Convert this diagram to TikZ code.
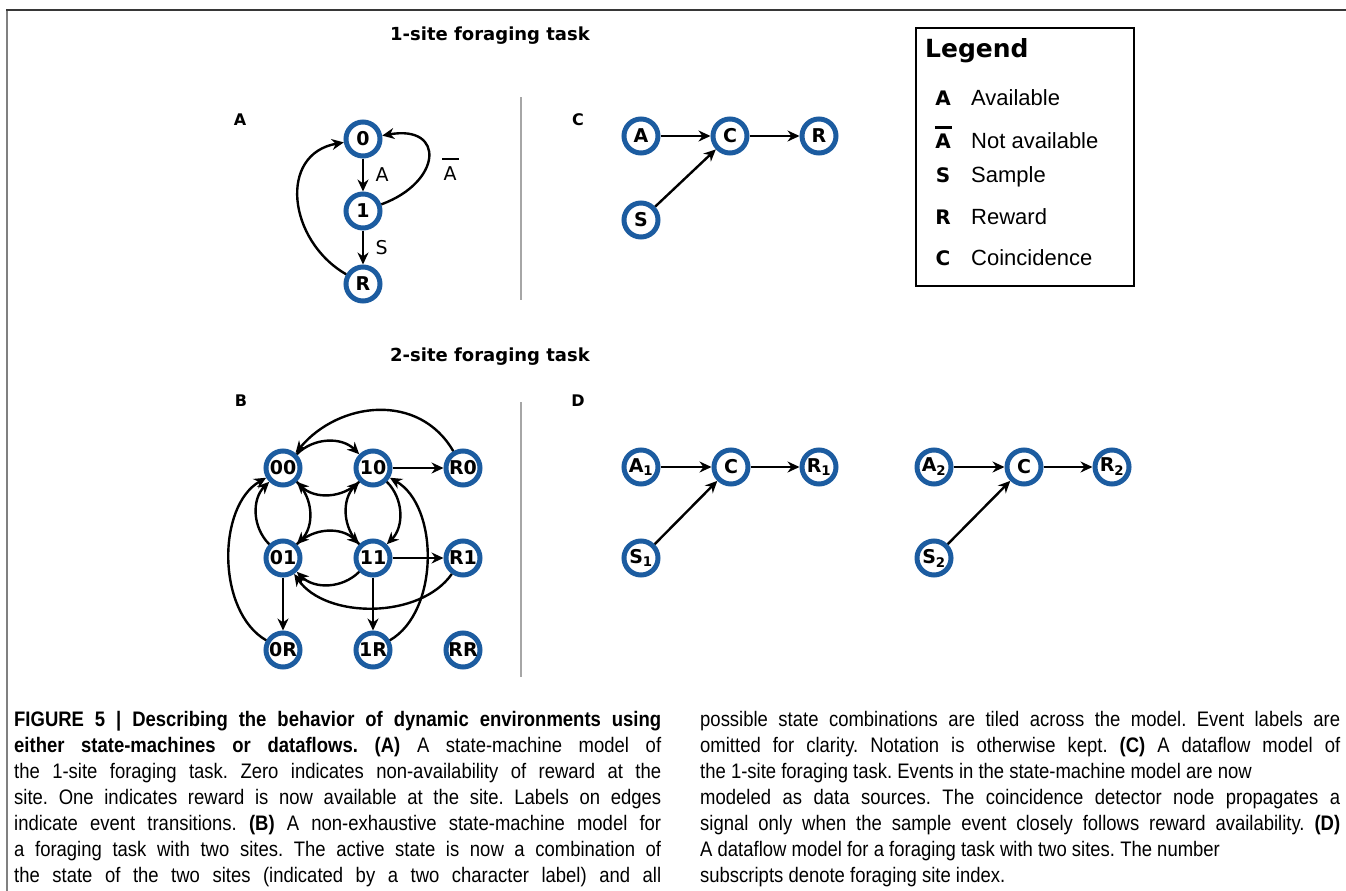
\documentclass[tikz,border=0pt]{standalone}
\usepackage{fontspec}
\setmainfont{Liberation Sans}
\newfontfamily\headfont{DejaVu Sans}
\newfontfamily\capfont[FakeStretch=0.88]{Liberation Sans}
\usetikzlibrary{positioning,arrows.meta}
\definecolor{ringblue}{RGB}{28,92,160}
\definecolor{framegray}{RGB}{55,55,55}
\newcommand{\fll}[1]{\makebox[647pt][s]{#1}}
\newcommand{\flr}[1]{\makebox[640pt][s]{#1}}
\tikzset{
    statenode/.style={ % blue ring, bold label
        draw=ringblue,
        line width=5pt,
        circle,
        minimum size=34pt,
        inner sep=0pt,
        fill=white,
        font=\headfont\bfseries\fontsize{19}{19}\selectfont
    },
    flow/.style={-{Stealth[length=12pt,width=11pt]}, line width=2.4pt},
    panel/.style={font=\headfont\bfseries\fontsize{16}{16}\selectfont},
    heading/.style={anchor=base, font=\headfont\bfseries\fontsize{18}{18}\selectfont},
    evlabel/.style={font=\headfont\fontsize{19}{19}\selectfont},
    legsym/.style={anchor=base, inner sep=0pt, font=\headfont\bfseries\fontsize{20}{20}\selectfont},
    legtext/.style={anchor=base west, inner sep=0pt, font=\fontsize{22}{22}\selectfont},
    captext/.style={anchor=north west, align=left, inner sep=0pt, font=\capfont\frenchspacing\fontsize{21}{26}\selectfont}
}

\begin{document}
\begin{tikzpicture}[x=1pt, y=-1pt, node distance=90pt, on grid]
        \useasboundingbox (0,0) rectangle (1346,891);
        \draw[gray, line width=2pt] (7,10.5) -- (7,891);
        \draw[framegray, line width=2pt] (6,10.5) -- (1346,10.5);
        
        \node[heading] (title1) at (490,41) {1-site foraging task};
        \node[heading] (title2) at (490,361) {2-site foraging task};
        \draw[gray!70, line width=2pt] (521,97) -- (521,300);
        \draw[gray!70, line width=2pt] (521,402) -- (521,677);
        
        \node[panel] (labA) at (240,120) {A};
        \node[panel] (labB) at (241,401) {B};
        \node[panel] (labC) at (578,120) {C};
        \node[panel] (labD) at (578,401) {D};
        
        % A: one site
        \node[statenode] (n0) at (363,139) {0};
        \node[statenode, below=72pt of n0] (n1) {1};
        \node[statenode, below=73pt of n1] (nR) {R};
        \draw[flow] (n0) -- node[evlabel, right=8pt] {A} (n1);
        \draw[flow] (n1) -- node[evlabel, right=8pt] {S} (nR);
        \draw[flow] (n1) to[out=20, in=10, looseness=2.4] (n0);
        \draw[flow] (nR) to[out=150, in=190, looseness=1.3] (n0);
        \node[evlabel, anchor=base] (abar) at (450,180) {\makebox[0pt][l]{\hspace{-1.5pt}\raisebox{20.5pt}{\rule{17pt}{2pt}}}A};
        
        % B: two sites
        \node[statenode] (s00) at (283,468) {00};
        \node[statenode, right=of s00] (s10) {10};
        \node[statenode, right=of s10] (sR0) {R0};
        \node[statenode, below=of s00] (s01) {01};
        \node[statenode, right=of s01] (s11) {11};
        \node[statenode, right=of s11] (sR1) {R1};
        \node[statenode, below=92pt of s01] (s0R) {0R};
        \node[statenode, right=of s0R] (s1R) {1R};
        \node[statenode, right=of s1R] (sRR) {RR};
        
        \draw[flow] (s00) to[bend left=45] (s10);
        \draw[flow] (s10) to[bend left=45] (s00);
        \draw[flow] (s01) to[bend left=45] (s00);
        \draw[flow] (s00) to[bend left=45] (s01);
        \draw[flow] (s11) to[bend left=45] (s10);
        \draw[flow] (s10) to[bend left=45] (s11);
        \draw[flow] (s01) to[bend left=45] (s11);
        \draw[flow] (s11) to[bend left=45] (s01);
        \draw[flow] (s10) -- (sR0);
        \draw[flow] (s11) -- (sR1);
        \draw[flow] (s01) -- (s0R);
        \draw[flow] (s11) -- (s1R);
        \draw[flow] (sR0) to[out=120, in=50, looseness=1.1] (s00);
        \draw[flow] (sR1) to[out=-125, in=-55, looseness=0.9] (s01);
        \draw[flow] (s0R) to[out=150, in=210, looseness=0.9] (s00);
        \draw[flow] (s1R) to[out=30, in=-30, looseness=0.9] (s10);
        
        % C: dataflow, one site
        \node[statenode] (cA) at (641,136) {A};
        \node[statenode, right=89pt of cA] (cC) {C};
        \node[statenode, right=89pt of cC] (cR) {R};
        \node[statenode, below=84pt of cA] (cS) {S};
        \draw[flow] (cA) -- (cC);
        \draw[flow] (cC) -- (cR);
        \draw[flow] (cS) -- (cC);
        
        % D: dataflow, two sites
        \node[statenode] (dA1) at (641,467) {A\textsubscript{1}};
        \node[statenode, right=of dA1] (dC1) {C};
        \node[statenode, right=88pt of dC1] (dR1) {R\textsubscript{1}};
        \node[statenode, below=91pt of dA1] (dS1) {S\textsubscript{1}};
        \node[statenode] (dA2) at (934,467) {A\textsubscript{2}};
        \node[statenode, right=of dA2] (dC2) {C};
        \node[statenode, right=88pt of dC2] (dR2) {R\textsubscript{2}};
        \node[statenode, below=91pt of dA2] (dS2) {S\textsubscript{2}};
        \draw[flow] (dA1) -- (dC1);
        \draw[flow] (dC1) -- (dR1);
        \draw[flow] (dS1) -- (dC1);
        \draw[flow] (dA2) -- (dC2);
        \draw[flow] (dC2) -- (dR2);
        \draw[flow] (dS2) -- (dC2);
        
        % legend
        \draw[line width=2pt] (916,28) rectangle (1134,286);
        \node[anchor=base west, inner sep=0pt, font=\headfont\bfseries\fontsize{25}{25}\selectfont] (legtitle) at (925,57) {Legend};
        \node[legsym] (symA) at (943,105) {A};
        \node[legtext] (txtA) at (971,105) {Available};
        \node[legsym] (symAbar) at (943,148) {\makebox[0pt][l]{\hspace{-0.5pt}\raisebox{19pt}{\rule{17pt}{2.6pt}}}A};
        \node[legtext] (txtAbar) at (971,148) {Not available};
        \node[legsym] (symS) at (943,182) {S};
        \node[legtext] (txtS) at (971,182) {Sample};
        \node[legsym] (symR) at (943,224) {R};
        \node[legtext] (txtR) at (971,224) {Reward};
        \node[legsym] (symC) at (943,265) {C};
        \node[legtext] (txtC) at (971,265) {Coincidence};
        
        % caption
        \node[captext] (capleft) at (14,711) {%
            \fll{\textbf{FIGURE 5 | Describing the behavior of dynamic environments using}}\\
            \fll{\textbf{either state-machines or dataflows. (A)} A state-machine model of}\\
            \fll{the 1-site foraging task. Zero indicates non-availability of reward at the}\\
            \fll{site. One indicates reward is now available at the site. Labels on edges}\\
            \fll{indicate event transitions. \textbf{(B)} A non-exhaustive state-machine model for}\\
            \fll{a foraging task with two sites. The active state is now a combination of}\\
            \fll{the state of the two sites (indicated by a two character label) and all}};
        \node[captext] (capright) at (700,711) {%
            \flr{possible state combinations are tiled across the model. Event labels are}\\
            \flr{omitted for clarity. Notation is otherwise kept. \textbf{(C)} A dataflow model of}\\
            the 1-site foraging task. Events in the state-machine model are now\\
            \flr{modeled as data sources. The coincidence detector node propagates a}\\
            \flr{signal only when the sample event closely follows reward availability. \textbf{(D)}}\\
            A dataflow model for a foraging task with two sites. The number\\
            subscripts denote foraging site index.};
\end{tikzpicture}
\end{document}
